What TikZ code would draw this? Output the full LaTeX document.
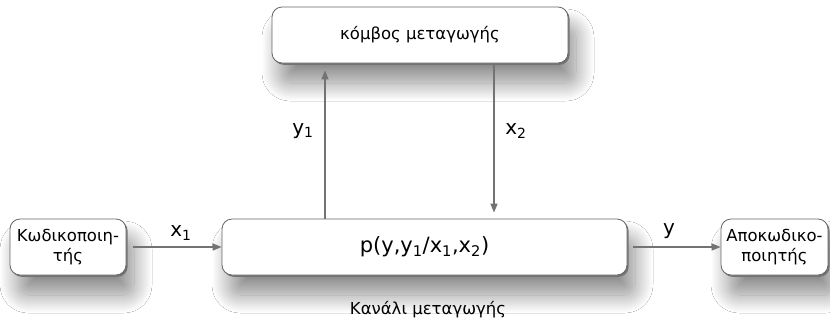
\documentclass[tikz,border=0pt]{standalone}
\usepackage{fontspec}
\setmainfont{DejaVu Sans}
\usetikzlibrary{arrows.meta,shadows,shadows.blur}
\begin{document}
\begin{tikzpicture}[x=1pt,y=-1pt,
  box/.style={draw=black!60,line width=0.8pt,fill=white,rounded corners=10pt,
    align=center,inner sep=0pt,minimum height=56pt,font=\fontsize{16.5}{20}\selectfont,
    blur shadow={shadow xshift=8pt,shadow yshift=-20pt,shadow blur radius=18pt,shadow blur steps=24,shadow opacity=45},
    general shadow={fill=black!55,shadow xshift=1.6pt,shadow yshift=-1.8pt}},
  arr/.style={draw=black!55,line width=1.4pt,-{Triangle[length=9pt,width=7pt]}},
  lbl/.style={font=\fontsize{20}{24}\selectfont,inner sep=0pt}]
\useasboundingbox (0,0) rectangle (830,325);
\fill[white] (0,0) rectangle (830,325);
\node[box,minimum width=116pt] (enc) at (68,247) {Κωδικοποιη-\\τής};
\node[box,minimum width=405pt] (chan) at (424.5,247) {\fontsize{21}{24}\selectfont p(y,y$_{\mathrm{1}}$/x$_{\mathrm{1}}$,x$_{\mathrm{2}}$)};
\node[box,minimum width=107pt] (dec) at (774.5,247) {Αποκωδικο-\\ποιητής};
\node[box,minimum width=296pt] (sw) at (420,35) {κόμβος μεταγωγής};
\coordinate (u) at (325,0);
\coordinate (d) at (494,0);
\draw[arr] ([xshift=7pt]enc.east) -- (chan.west);
\draw[arr] ([xshift=6pt]chan.east) -- (dec.west);
\draw[arr] (chan.north -| u) -- ([yshift=-7pt]sw.south -| u);
\draw[arr] (sw.south -| d) -- ([yshift=6pt]chan.north -| d);
\node[lbl] (lx1) at (181,233) {x$_{\mathrm{1}}$};
\node[lbl] (ly) at (669,231) {y};
\node[lbl] (ly1) at (303,131) {y$_{\mathrm{1}}$};
\node[lbl] (lx2) at (516,131) {x$_{\mathrm{2}}$};
\node[font=\fontsize{16.5}{20}\selectfont] (cap) at (428,310) {Κανάλι μεταγωγής};
\end{tikzpicture}
\end{document}
